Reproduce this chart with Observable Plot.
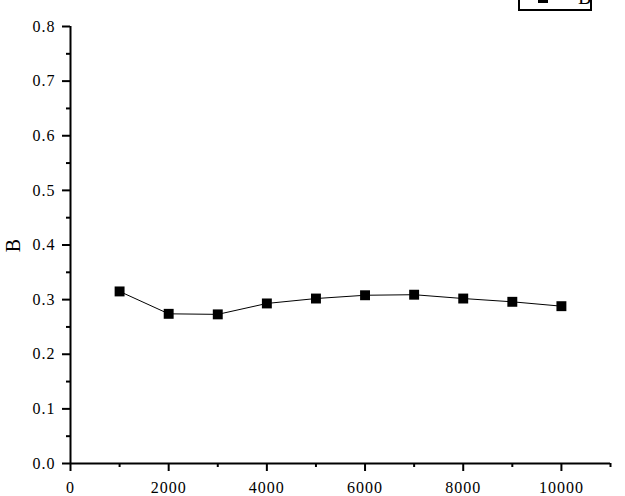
<!DOCTYPE html>
<html><head><meta charset="utf-8">
<script src="https://cdn.jsdelivr.net/npm/d3@7"></script>
<script src="https://cdn.jsdelivr.net/npm/@observablehq/plot@0.6"></script>
<style>
body{margin:0;background:#fff;}
#wrap{position:relative;width:625px;height:496px;overflow:hidden;background:#fff;}
#legend{position:absolute;left:518px;top:-22px;width:74px;height:33px;box-sizing:border-box;border:2px solid #000;background:#fff;}
g[aria-label="y-axis label"] text{font-size:20px;}
</style></head><body><div id="wrap"></div>
<script>
const xValues = [1000, 2000, 3000, 4000, 5000, 6000, 7000, 8000, 9000, 10000];
const bValues = [0.315, 0.274, 0.273, 0.293, 0.302, 0.308, 0.309, 0.302, 0.296, 0.288];
const xTicks = [0, 2000, 4000, 6000, 8000, 10000];
const xMinorTicks = [1000, 3000, 5000, 7000, 9000, 11000];
const yTicks = [0, 0.1, 0.2, 0.3, 0.4, 0.5, 0.6, 0.7, 0.8];
const yMinorTicks = [0.05, 0.15, 0.25, 0.35, 0.45, 0.55, 0.65, 0.75];
const seriesName = "B";

const data = xValues.map((x, i) => ({x, y: bValues[i]}));

const chart = Plot.plot({
  width: 625,
  height: 496,
  marginLeft: 70,
  marginRight: 15,
  marginTop: 26,
  marginBottom: 33,
  style: {fontFamily: "Liberation Serif", fontSize: "16px", letterSpacing: "1px", background: "#fff", color: "#000"},
  x: {domain: [0, 11000]},
  y: {domain: [0, 0.8]},
  marks: [
    Plot.axisY({ticks: yTicks, tickSize: 8, strokeWidth: 2, tickPadding: 7, tickFormat: d3.format(".1f"),
      label: seriesName, labelAnchor: "center", labelArrow: "none", labelOffset: 65}),
    Plot.axisY({ticks: yMinorTicks, tickSize: 4, strokeWidth: 2, text: null, label: null}),
    Plot.axisX({ticks: xTicks, tickSize: 8, strokeWidth: 2, tickPadding: 10, tickFormat: d3.format("d"), label: null}),
    Plot.axisX({ticks: xMinorTicks, tickSize: 4, strokeWidth: 2, text: null, label: null}),
    Plot.ruleY([0], {strokeWidth: 2}),
    Plot.ruleX([0], {strokeWidth: 2}),
    Plot.line(data, {x: "x", y: "y", stroke: "#000", strokeWidth: 1}),
    Plot.dot(data, {x: "x", y: "y", symbol: "square", r: 5.6, fill: "#000", stroke: "none"})
  ]
});

const wrap = document.getElementById("wrap");
wrap.appendChild(chart);

const legend = document.createElement("div");
legend.id = "legend";
wrap.appendChild(legend);
const ls = d3.select(legend).append("svg").attr("width", 70).attr("height", 29).style("display", "block");
ls.append("line").attr("x1", 8).attr("x2", 38).attr("y1", 18).attr("y2", 18).attr("stroke", "#000");
ls.append("rect").attr("x", 18).attr("y", 13).attr("width", 10).attr("height", 10).attr("fill", "#000");
ls.append("text").attr("x", 58).attr("y", 24).attr("font-family", "Liberation Serif").attr("font-size", 20).text(seriesName);
</script>
</body></html>
